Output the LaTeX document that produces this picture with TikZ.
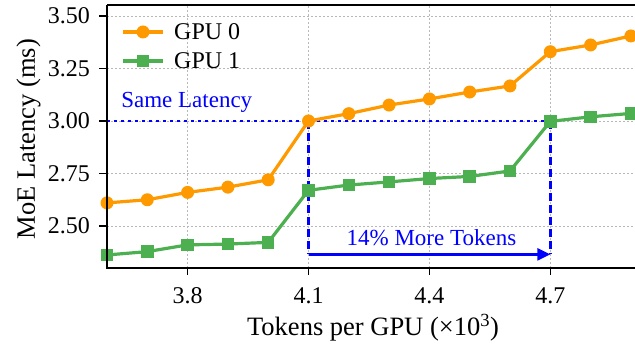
\documentclass[tikz,border=0pt]{standalone}
\usepackage{fontspec}
\setmainfont{Liberation Serif}
\usetikzlibrary{arrows.meta}
\definecolor{gorange}{HTML}{FF9900}
\definecolor{ggreen}{HTML}{4CAF50}
\definecolor{gridgray}{HTML}{B8B8B8}
\tikzset{
  gridline/.style={gridgray, line width=0.9pt, dash pattern=on 1.5pt off 2.5pt},
  spine/.style={black, line width=2pt},
  ticklbl/.style={inner sep=0pt, font=\fontsize{24}{28}\selectfont},
  axlbl/.style={inner sep=0pt, font=\fontsize{26.5}{30}\selectfont},
  annot/.style={inner sep=0pt, text=blue, font=\fontsize{23}{27}\selectfont},
  oline/.style={gorange, line width=3.2pt, line join=round},
  gline/.style={ggreen, line width=3.2pt, line join=round},
  omark/.style={circle, fill=gorange, inner sep=0pt, minimum size=13pt},
  gmark/.style={rectangle, fill=ggreen, inner sep=0pt, minimum size=12.5pt},
  bluedot/.style={blue, line width=2.6pt, dash pattern=on 2.6pt off 4.4pt},
  bluedash/.style={blue, line width=2.6pt, dash pattern=on 8pt off 4pt},
}
\begin{document}
\begin{tikzpicture}
\useasboundingbox (0pt,0pt) rectangle (635pt,350pt);
\begin{scope}[x=403pt, y=210pt, shift={(-1343.8pt,-401pt)}]
  % grid
  \foreach \gx in {3.8,4.1,4.4,4.7} \draw[gridline] (\gx,2.30) -- (\gx,3.552);
  \foreach \gy in {2.5,2.75,3.0,3.25,3.5} \draw[gridline] (3.6,\gy) -- (4.92,\gy);
  % annotations (under data)
  \coordinate (hl) at (3.6,3.0);
  \coordinate (a1) at (4.1,3.0);
  \coordinate (a2) at (4.7,3.0);
  \coordinate (b1) at (4.1,2.365);
  \coordinate (b2) at (4.7,2.365);
  \draw[bluedot] (hl) -- (a2);
  \draw[bluedash] (a1) -- (b1);
  \draw[bluedash] (a2) -- (b2);
  \draw[blue, line width=2.6pt, -{Triangle[length=13pt,width=12pt]}] (b1) -- (b2);
  \node[annot, anchor=base] (more) at (4.405,2.405) {14\% More Tokens};
  \node[annot, anchor=base west] (same) at (3.635,3.065) {Same Latency};
  % GPU 0
  \draw[oline] (3.6,2.61) -- (3.7,2.625) -- (3.8,2.66) -- (3.9,2.685) -- (4.0,2.72)
    -- (4.1,3.0) -- (4.2,3.035) -- (4.3,3.076) -- (4.4,3.105) -- (4.5,3.138)
    -- (4.6,3.167) -- (4.7,3.33) -- (4.8,3.362) -- (4.9,3.405);
  \foreach \px/\py [count=\i] in {3.6/2.61,3.7/2.625,3.8/2.66,3.9/2.685,4.0/2.72,4.1/3.0,4.2/3.035,4.3/3.076,4.4/3.105,4.5/3.138,4.6/3.167,4.7/3.33,4.8/3.362,4.9/3.405}
    \node[omark] (o\i) at (\px,\py) {};
  % GPU 1
  \draw[gline] (3.6,2.362) -- (3.7,2.378) -- (3.8,2.41) -- (3.9,2.414) -- (4.0,2.422)
    -- (4.1,2.67) -- (4.2,2.695) -- (4.3,2.71) -- (4.4,2.726) -- (4.5,2.736)
    -- (4.6,2.762) -- (4.7,2.998) -- (4.8,3.02) -- (4.9,3.036);
  \foreach \px/\py [count=\i] in {3.6/2.362,3.7/2.378,3.8/2.41,3.9/2.414,4.0/2.422,4.1/2.67,4.2/2.695,4.3/2.71,4.4/2.726,4.5/2.736,4.6/2.762,4.7/2.998,4.8/3.02,4.9/3.036}
    \node[gmark] (g\i) at (\px,\py) {};
  % spines
  \draw[spine] (3.6,3.552) -- (3.6,2.30) -- (4.93,2.30);
  \draw[spine] (3.6,3.552) -- (4.93,3.552);
  % y ticks
  \foreach \yv/\yl in {2.5/2.50,2.75/2.75,3.0/3.00,3.25/3.25,3.5/3.50} {
    \draw[black, line width=1.6pt] (3.6,\yv) -- ++(-8pt,0pt);
    \node[ticklbl, anchor=east] at ([xshift=-17pt]3.6,\yv) {\yl};
  }
  % x ticks
  \foreach \xv in {3.8,4.1,4.4,4.7} {
    \draw[black, line width=1.6pt] (\xv,2.30) -- ++(0pt,-7pt);
    \node[ticklbl, anchor=base] at ([yshift=-36pt]\xv,2.30) {\xv};
  }
\end{scope}
% axis labels
\node[axlbl, anchor=base] (xl) at (373pt,14pt) {Tokens per GPU (×10\textsuperscript{3})};
\node[axlbl, anchor=base, rotate=90] (yl) at (35pt,211pt) {MoE Latency (ms)};
% legend
\draw[oline] (123pt,318pt) -- (163pt,318pt);
\node[omark] (lo) at (143pt,318pt) {};
\node[ticklbl, anchor=west] (lgo) at (174pt,318pt) {GPU 0};
\draw[gline] (123pt,289pt) -- (163pt,289pt);
\node[gmark] (lg) at (143pt,289pt) {};
\node[ticklbl, anchor=west] (lgg) at (174pt,289pt) {GPU 1};
\end{tikzpicture}
\end{document}
